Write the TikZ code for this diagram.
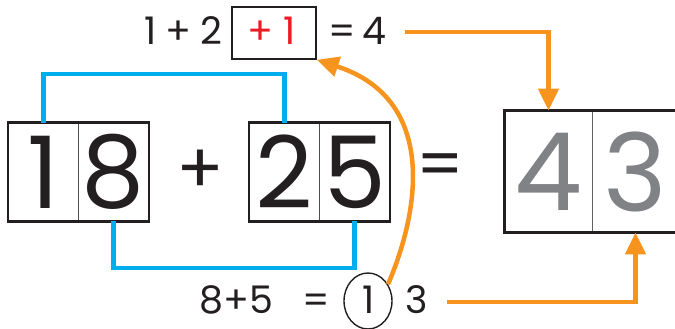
\documentclass[tikz,border=0pt]{standalone}
\usepackage{fontspec}
\setmainfont{Poppins}
\usetikzlibrary{arrows.meta,shapes.geometric}
\definecolor{ink}{RGB}{35,31,32}
\definecolor{cyanline}{RGB}{0,174,239}
\definecolor{orangeline}{RGB}{247,148,29}
\definecolor{greydigit}{RGB}{128,130,133}
\definecolor{reddigit}{RGB}{237,28,36}
\begin{document}
\begin{tikzpicture}[x=1pt,y=-1pt,
  cell/.style={draw=ink!80,line width=0.8pt,minimum width=70pt,minimum height=98pt,inner sep=0pt,text=ink,font=\fontsize{100}{100}\selectfont},
  bigcell/.style={draw=ink!70,line width=0.8pt,minimum width=87pt,minimum height=121pt,inner sep=0pt,text=greydigit,font=\fontsize{108}{108}\selectfont},
  frame/.style={draw=ink,line width=2.6pt},
  small/.style={inner sep=0pt,anchor=base,text=ink,font=\fontsize{38}{38}\selectfont},
  blueline/.style={draw=cyanline,line width=4.5pt},
  orangearrow/.style={draw=orangeline,line width=4.5pt,-{Triangle[width=20pt,length=22pt]}},
]
\useasboundingbox (0,0) rectangle (675,329);
% left addend
\node[cell] (a1) at (43.5,172) {1};
\node[cell] (a2) at (113.5,172) {8};
\draw[frame] (a1.north west) rectangle (a2.south east);
% right addend
\node[cell] (b1) at (284.5,172) {2};
\node[cell] (b2) at (354.5,172) {5};
\draw[frame] (b1.north west) rectangle (b2.south east);
% operators
\node[inner sep=0pt,text=ink,font=\fontsize{70}{70}\selectfont] (plus) at (200,172) {+};
\node[inner sep=0pt,text=ink,font=\fontsize{66}{66}\selectfont] (eq) at (440,171) {=};
% result
\begin{scope}
\clip (0,0) rectangle (675,329);
\node[bigcell] (c1) at (548.5,171.5) {4};
\node[bigcell] (c2) at (635.5,171.5) {3};
\draw[frame] (c1.north west) rectangle (c2.south east);
\end{scope}
% top line of text
\node[small] (t1) at (151,45) {1};
\node[small] (t2) at (178,45) {+};
\node[small] (t3) at (211,45) {2};
\node[draw=ink,line width=1.6pt,minimum width=84pt,minimum height=52pt,inner sep=0pt] (rb) at (274,33) {};
\node[small,text=reddigit] (r1) at (260,45) {+};
\node[small,text=reddigit] (r2) at (290,45) {1};
\node[small] (t4) at (342,45) {=};
\node[small] (t5) at (374,45) {4};
% bottom line of text
\node[small] (s1) at (236,313) {8+5};
\node[small] (s2) at (316,313) {=};
\node[draw=ink,line width=1.4pt,ellipse,minimum width=48pt,minimum height=56pt,inner sep=0pt] (circ) at (368,301) {};
\node[small] (s3) at (369,313) {1};
\node[small] (s4) at (417,313) {3};
% blue brackets
\coordinate (btop) at (0,74);
\coordinate (bbot) at (0,268);
\draw[blueline] (a1.north) -- (a1.north |- btop) -| (b1.north);
\draw[blueline] (a2.south) -- (a2.south |- bbot) -| (b2.south);
% orange arrows
\coordinate (o1) at (405,32);
\coordinate (o2) at (447,302);
\draw[orangearrow] (o1) -| (c1.north);
\draw[orangearrow] (o2) -| (c2.south);
\draw[orangearrow] (circ.40) .. controls (418,215) and (440,100) .. (rb.south east);
\end{tikzpicture}
\end{document}
